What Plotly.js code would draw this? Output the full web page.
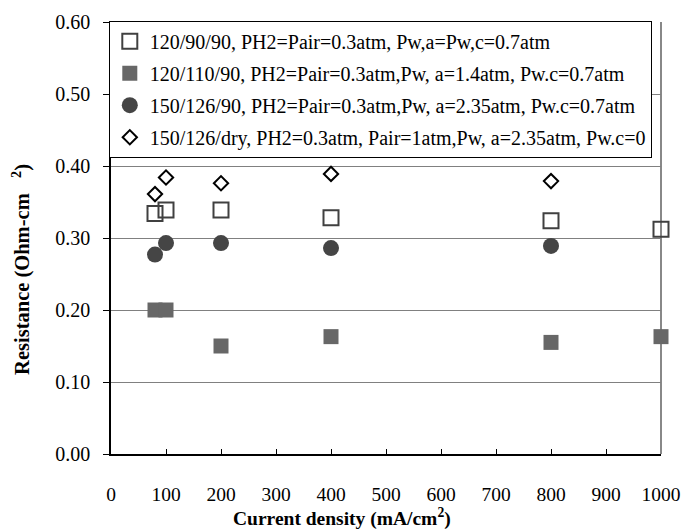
<!DOCTYPE html>
<html>
<head>
<meta charset="utf-8">
<script src="https://cdn.plot.ly/plotly-3.0.1.min.js"></script>
<style>html,body{margin:0;padding:0;background:#fff;}#chart{width:686px;height:532px;}</style>
</head>
<body>
<div id="chart"></div>
<script>
// Data
const seriesNames = [
  "120/90/90, PH2=Pair=0.3atm, Pw,a=Pw,c=0.7atm",
  "120/110/90, PH2=Pair=0.3atm,Pw, a=1.4atm, Pw.c=0.7atm",
  "150/126/90, PH2=Pair=0.3atm,Pw, a=2.35atm, Pw.c=0.7atm",
  "150/126/dry, PH2=0.3atm, Pair=1atm,Pw, a=2.35atm, Pw.c=0"
];
const x1 = [80, 100, 200, 400, 800, 1000];
const y1 = [0.334, 0.339, 0.339, 0.328, 0.324, 0.312];
const x2 = [80, 100, 200, 400, 800, 1000];
const y2 = [0.200, 0.200, 0.150, 0.163, 0.155, 0.163];
const x3 = [80, 100, 200, 400, 800];
const y3 = [0.277, 0.293, 0.293, 0.286, 0.289];
const x4 = [80, 100, 200, 400, 800];
const y4 = [0.361, 0.384, 0.376, 0.389, 0.379];
const xTicks = [0, 100, 200, 300, 400, 500, 600, 700, 800, 900, 1000];
const yTicks = [0.0, 0.1, 0.2, 0.3, 0.4, 0.5, 0.6];

const serif = "Liberation Serif, Times New Roman, serif";

const traces = [
  {x: x1, y: y1, name: seriesNames[0], legendgroup: "g1", type: "scatter", mode: "markers", cliponaxis: false,
   marker: {symbol: "square-open", size: 15, color: "#404040", line: {width: 2, color: "#404040"}}},
  {x: x2, y: y2, name: seriesNames[1], legendgroup: "g2", type: "scatter", mode: "markers", cliponaxis: false,
   marker: {symbol: "square", size: 15, color: "#676767", line: {width: 0}}},
  {x: x3, y: y3, name: seriesNames[2], legendgroup: "g3", type: "scatter", mode: "markers", cliponaxis: false,
   marker: {symbol: "circle", size: 16, color: "#454545", line: {width: 0}}},
  {x: x4, y: y4, name: seriesNames[3], legendgroup: "g4", type: "scatter", mode: "markers", cliponaxis: false,
   marker: {symbol: "diamond-open", size: 11, color: "#000000", line: {width: 2, color: "#000000"}}}
];

const layout = {
  width: 686, height: 532,
  margin: {l: 111, r: 25, t: 22, b: 78},
  paper_bgcolor: "#ffffff", plot_bgcolor: "#ffffff",
  font: {family: serif, size: 20, color: "#000000"},
  showlegend: true,
  legend: {x: -0.004, y: 1.003, xanchor: "left", yanchor: "top", bgcolor: "#ffffff",
           bordercolor: "#000000", borderwidth: 1, font: {family: serif, size: 20, color: "#000000"},
           traceorder: "grouped", tracegroupgap: 3, itemwidth: 30},
  xaxis: {range: [0, 1000], tickvals: xTicks, ticktext: xTicks.map(String),
          showgrid: false, zeroline: false, showline: true, linecolor: "#000000", linewidth: 1.5,
          ticks: "inside", ticklen: 5, tickcolor: "#000000", tickwidth: 1,
          ticklabelstandoff: 22, tickfont: {family: serif, size: 19.5, color: "#000000"}},
  yaxis: {range: [0, 0.6], tickvals: yTicks, ticktext: yTicks.map(v => v.toFixed(2)),
          showgrid: true, gridcolor: "#808080", gridwidth: 1, zeroline: false,
          showline: true, linecolor: "#000000", linewidth: 1.5,
          ticks: "outside", ticklen: 6, tickcolor: "#000000", tickwidth: 1,
          ticklabelstandoff: 9, tickfont: {family: serif, size: 20, color: "#000000"}},
  shapes: [
    {type: "line", xref: "paper", yref: "paper", x0: 1, x1: 1, y0: 0, y1: 1, layer: "below",
     line: {color: "#888888", width: 2}}
  ],
  annotations: [
    {text: "<b>Current density (mA/cm<sup>2</sup>)</b>", xref: "paper", yref: "paper",
     x: 0.42, y: -0.18, xanchor: "center", yanchor: "bottom", showarrow: false,
     font: {family: serif, size: 19.5, color: "#000000"}},
    {text: "<b>Resistance (Ohm-cm\u00a0\u00a0\u00a0<sup>2</sup>)</b>", xref: "paper", yref: "paper",
     x: -0.164, y: 0.428, xanchor: "center", yanchor: "middle", textangle: -90, showarrow: false,
     font: {family: serif, size: 20.5, color: "#000000"}}
  ]
};

Plotly.newPlot("chart", traces, layout, {displayModeBar: false, responsive: false});
</script>
</body>
</html>
